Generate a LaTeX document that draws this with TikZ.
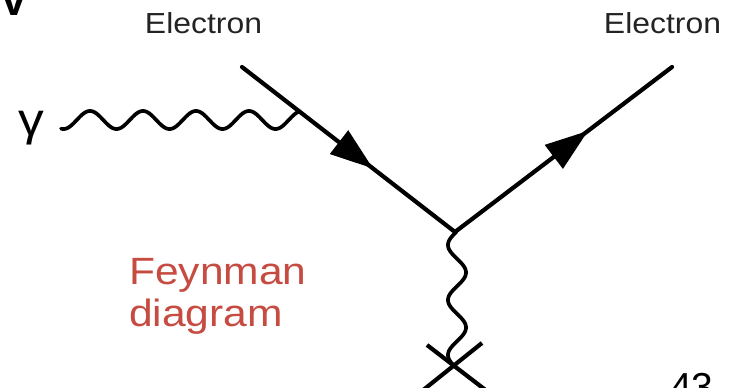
\documentclass[tikz,border=0pt]{standalone}
\usepackage{fontspec}
\setmainfont{Liberation Sans}
\usetikzlibrary{arrows.meta,decorations.markings,calc}
\definecolor{feynred}{RGB}{198,76,66}
\definecolor{labelgray}{RGB}{35,35,35}
\tikzset{
  fermion/.style={line width=4.2pt, line cap=round},
  photon/.style={line width=3.7pt, line cap=round, line join=round},
  crossline/.style={line width=4.2pt},
  lbl/.style={inner sep=0pt, text=labelgray, font=\fontsize{29}{30}\selectfont},
  redlbl/.style={inner sep=0pt, text=feynred, font=\fontsize{38}{40}\selectfont},
  midarrow/.style={postaction={decorate, decoration={markings,
     mark=at position #1 with {\arrow{Triangle[length=43pt,width=29pt]}}}}}
}
\begin{document}
\begin{tikzpicture}[x=1pt,y=-1pt]
\useasboundingbox (0,0) rectangle (731,388);
\clip (0,0) rectangle (731,388);
% coordinates
\coordinate (e1) at (242,67);
\coordinate (v) at (455,232);
\coordinate (e2) at (672,67);
\coordinate (x) at (454,366);
% labels
\node[lbl, anchor=base] (lblL) at (203.5,33) {\scalebox{1.1}[1]{Electron}};
\node[lbl, anchor=base] (lblR) at (662.5,33) {\scalebox{1.1}[1]{Electron}};
\node[inner sep=0pt, anchor=base west, font=\fontsize{46}{46}\selectfont] (gam) at (18,135) {\scalebox{1.12}[1]{γ}};
\node[redlbl, anchor=base west] (f1) at (129,284) {\scalebox{1.12}[1]{Feynman}};
\node[redlbl, anchor=base west] (f2) at (129,326) {\scalebox{1.12}[1]{diagram}};
\node[inner sep=0pt, anchor=base, font=\bfseries\fontsize{44}{44}\selectfont] (topv) at (14,15) {V};
\node[inner sep=0pt, anchor=base west, font=\fontsize{39}{39}\selectfont] (pg) at (670,400) {43};
% fermion lines
\draw[fermion, midarrow=0.615] (e1) -- (v);
\draw[fermion, midarrow=0.613] (v) -- (e2);
% photon (horizontal)
\draw[photon] plot[domain=61:298, samples=220] (\x, {120-9*cos(6.7925*(\x-90))});
% photon (vertical)
\draw[photon] plot[domain=232:366, samples=200] ({457-9*cos(6.5455*(\x-245))}, \x);
% cross
\draw[crossline] ($(x)+(-27,-21)$) -- ($(x)+(38,29)$);
\draw[crossline] ($(x)+(28,-23)$) -- ($(x)+(-37,29)$);
\end{tikzpicture}
\end{document}
